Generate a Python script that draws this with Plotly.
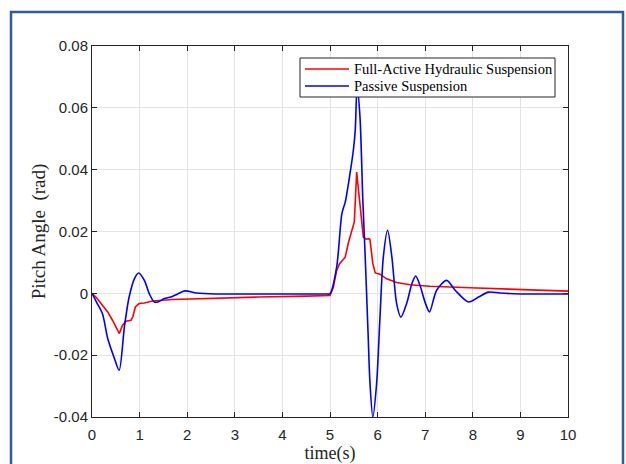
import plotly.graph_objects as go

# ---- data ----
t_active = [0, 0.1, 0.19, 0.33, 0.43, 0.50, 0.574, 0.64, 0.71, 0.82, 0.86, 0.91, 0.99, 1.1, 1.27,
            1.69, 2.5, 3.5, 4.5, 5.0, 5.07, 5.14, 5.2, 5.32, 5.39, 5.46, 5.51, 5.56, 5.60, 5.63,
            5.67, 5.70, 5.76, 5.82, 5.84, 5.90, 5.95, 6.05, 6.19, 6.40, 6.68, 7.1, 7.94, 9.0, 10.0]
v_active = [0, -0.0015, -0.0033, -0.006, -0.0087, -0.0109, -0.013, -0.0104, -0.009, -0.0087,
            -0.0075, -0.0044, -0.0033, -0.0031, -0.0025, -0.002, -0.0016, -0.0012, -0.0009,
            -0.0007, 0.002, 0.0074, 0.0096, 0.0117, 0.0166, 0.0204, 0.023, 0.0392, 0.0333, 0.030,
            0.0225, 0.0182, 0.0175, 0.0177, 0.0174, 0.0096, 0.0066, 0.0062, 0.0047, 0.0035,
            0.0028, 0.0023, 0.0018, 0.0012, 0.0007]

t_passive = [0, 0.1, 0.22, 0.33, 0.47, 0.57, 0.68, 0.78, 0.89, 0.98, 1.10, 1.20, 1.31, 1.40, 1.52,
             1.66, 1.80, 1.95, 2.2, 2.6, 3.0, 4.0, 4.9, 5.0, 5.14, 5.25, 5.32, 5.42, 5.49, 5.53, 5.57,
             5.63, 5.69, 5.74, 5.80, 5.84, 5.90, 5.98, 6.05, 6.12, 6.21, 6.30, 6.40, 6.49, 6.61,
             6.72, 6.80, 6.89, 7.0, 7.09, 7.24, 7.45, 7.63, 7.91, 8.12, 8.33, 8.57, 9.0, 10.0]
v_passive = [0, -0.003, -0.0066, -0.0146, -0.021, -0.0249, -0.0109, -0.0012, 0.0047, 0.0066,
             0.0042, 0.0, -0.0028, -0.0027, -0.0017, -0.0012, -0.0002, 0.0008, 0.0001, -0.0002,
             -0.0002, -0.0002, -0.0002, -0.0001, 0.0085, 0.0258, 0.0295, 0.0387, 0.0462, 0.0527, 0.067,
             0.057, 0.030, 0.0117, -0.013, -0.029, -0.040, -0.029, -0.0077, 0.0117, 0.0204,
             0.0117, -0.0033, -0.0077, -0.0033, 0.0031, 0.0056, 0.0026, -0.003, -0.006, 0.001,
             0.0042, 0.001, -0.0028, -0.0012, 0.0004, 0.0001, -0.0002, -0.0002]

series_names = ["Full-Active Hydraulic Suspension", "Passive Suspension"]
series_colors = ["#FF0000", "#0000FF"]

x_ticks = [0, 1, 2, 3, 4, 5, 6, 7, 8, 9, 10]
y_ticks = [-0.04, -0.02, 0, 0.02, 0.04, 0.06, 0.08]
y_tick_text = ["-0.04", "-0.02", "0", "0.02", "0.04", "0.06", "0.08"]

W, H = 626, 464
ML, MR, MT, MB = 92, 58, 46, 47
PW, PH = W - ML - MR, H - MT - MB

def px(x):
    return (x - ML) / PW

def py(y):
    return 1 - (y - MT) / PH

SERIF = "Liberation Serif, Times New Roman"
SANS = "Liberation Sans, Arial"

fig = go.Figure()
fig.add_trace(go.Scatter(x=t_active, y=v_active, mode="lines", name=series_names[0],
                         line=dict(color=series_colors[0], width=1.6)))
fig.add_trace(go.Scatter(x=t_passive, y=v_passive, mode="lines", name=series_names[1],
                         line=dict(color=series_colors[1], width=1.6, shape="spline", smoothing=0.8)))

axis_common = dict(showline=True, linecolor="#262626", linewidth=1, mirror="ticks",
                   ticks="inside", ticklen=5, tickcolor="#262626", automargin=False,
                   showgrid=True, gridcolor="#E3E3E3", gridwidth=1, zeroline=False,
                   tickfont=dict(family=SANS, size=15, color="#262626"))

fig.update_xaxes(range=[0, 10], tickvals=x_ticks, ticklabelstandoff=4,
                 title=dict(text="time(s)", font=dict(family=SERIF, size=18, color="#262626"),
                            standoff=1),
                 **axis_common)
fig.update_yaxes(range=[-0.04, 0.08], tickvals=y_ticks, ticktext=y_tick_text,
                 title=dict(text="Pitch Angle\u00a0\u00a0(rad)",
                            font=dict(family=SERIF, size=19, color="#262626"), standoff=3),
                 **axis_common)

# manual legend (box, line samples, labels)
LX0, LX1, LY0, LY1 = 300, 555, 58, 97
rows_y = [69, 86]
shapes = [dict(type="rect", xref="paper", yref="paper",
               x0=px(11), x1=px(623), y0=py(480), y1=py(12),
               line=dict(color="#2E5C9E", width=2.5), layer="below"),
          dict(type="rect", xref="paper", yref="paper",
               x0=px(LX0), x1=px(LX1), y0=py(LY1), y1=py(LY0),
               fillcolor="white", line=dict(color="#262626", width=1), layer="above")]
annotations = []
for name, col, ry in zip(series_names, series_colors, rows_y):
    shapes.append(dict(type="line", xref="paper", yref="paper",
                       x0=px(305), x1=px(349), y0=py(ry), y1=py(ry),
                       line=dict(color=col, width=1.6), layer="above"))
    annotations.append(dict(xref="paper", yref="paper", x=px(352), y=py(ry),
                            xanchor="left", yanchor="middle", showarrow=False,
                            text=name, font=dict(family=SERIF, size=14.5, color="black")))

fig.update_layout(
    width=W, height=H,
    margin=dict(l=ML, r=MR, t=MT, b=MB, autoexpand=False),
    paper_bgcolor="white", plot_bgcolor="white",
    showlegend=False,
    shapes=shapes,
    annotations=annotations,
)

fig.write_html("out.html")
